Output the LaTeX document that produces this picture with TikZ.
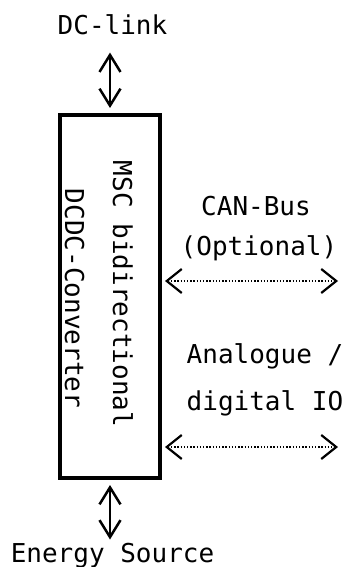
\documentclass[tikz,border=0pt]{standalone}
\usepackage{fontspec}
\setmonofont{DejaVu Sans Mono}
\usetikzlibrary{arrows.meta}
\tikzset{
  lbl/.style = {font=\ttfamily\fontsize{26}{30}\selectfont, inner sep=0, anchor=base},
  convbox/.style = {draw, line width=4pt, minimum width=100pt, minimum height=363pt},
  power/.style = {<->, line width=2.5pt, >={Straight Barb[length=17pt, width=21pt]}},
  signal/.style = {<->, line width=1.4pt, dash pattern=on 1.3pt off 1.9pt,
    >={Straight Barb[length=15pt, width=24pt, line width=2.2pt]}}
}
\begin{document}
\begin{tikzpicture}[x=1pt, y=-1pt]
  \useasboundingbox (0,0) rectangle (345,567);
  % nodes
  \node (conv) [convbox] at (110,296.5) {};
  \node (msc) [lbl, rotate=-90] at (113,294) {MSC bidirectional};
  \node (dcdc) [lbl, rotate=-90] at (65,298.5) {DCDC-Converter};
  \node (dclink) [lbl] at (112.5,35) {DC-link};
  \node (source) [lbl] at (112.5,562) {Energy Source};
  \node (can) [lbl] at (256,215) {CAN-Bus};
  \node (opt) [lbl] at (259,255) {(Optional)};
  \node (ana) [lbl] at (265,363) {Analogue /};
  \node (dig) [lbl] at (265,410) {digital IO};
  \coordinate (canend) at (338,281);
  \coordinate (ioend) at (338,447);
  % edges
  \draw [power, shorten <=17pt, shorten >=5pt] (conv.north |- dclink.south) -- (conv.north);
  \draw [power, shorten <=5pt, shorten >=3pt] (conv.south) -- (conv.south |- source.north);
  \draw [signal, shorten <=3pt] (conv.east |- canend) -- (canend);
  \draw [signal, shorten <=3pt] (conv.east |- ioend) -- (ioend);
\end{tikzpicture}
\end{document}
